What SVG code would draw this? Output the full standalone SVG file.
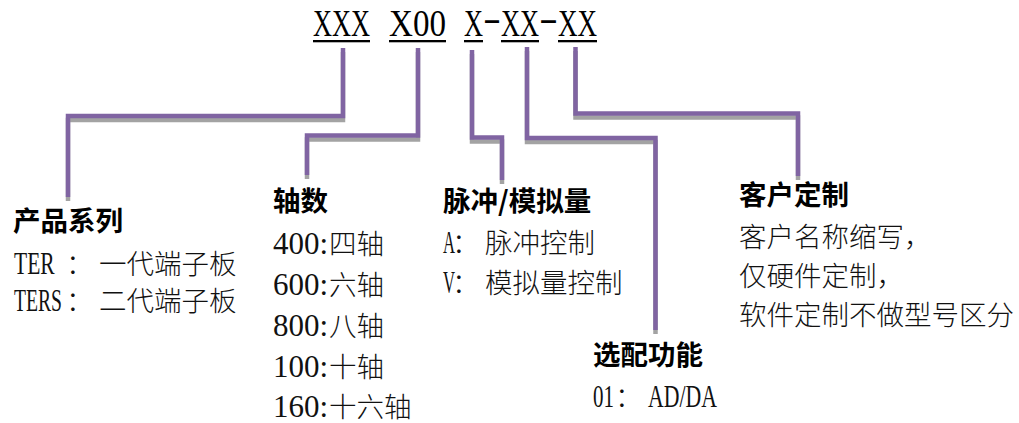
<svg xmlns="http://www.w3.org/2000/svg" width="1019" height="423" viewBox="0 0 1019 423">
<style>
.title{font-family:"Liberation Serif",serif;font-size:38px;fill:#000}
.ul{fill:#000}
.head{font-family:"Noto Sans CJK SC",sans-serif;font-size:27.5px;font-weight:bold;fill:#000}
.cjk{font-family:"Noto Sans CJK SC",sans-serif;font-size:27.5px;font-weight:300;fill:#111}
.lat{font-family:"Liberation Serif","Noto Sans CJK SC",serif;font-size:32px;fill:#111}
.dig{font-family:"Liberation Serif","Noto Sans CJK SC",serif;font-size:31px;fill:#111}
.conn{fill:none;stroke:#8064A2;stroke-width:4.5;stroke-linejoin:miter;stroke-linecap:butt}
.shadow{fill:none;stroke:#a3a3a3;stroke-width:4.5;stroke-linejoin:miter;stroke-linecap:butt}
</style>
<rect width="1019" height="423" fill="#fff"/>
<g id="code">
  <text class="title" x="313" y="36" textLength="57" lengthAdjust="spacingAndGlyphs">XXX</text>
  <text class="title" x="389" y="36" textLength="57" lengthAdjust="spacingAndGlyphs">X00</text>
  <text class="title" x="464" y="36" textLength="19" lengthAdjust="spacingAndGlyphs">X</text>
  <text class="title" x="483" y="31" textLength="18" lengthAdjust="spacingAndGlyphs">-</text>
  <text class="title" x="501" y="36" textLength="38" lengthAdjust="spacingAndGlyphs">XX</text>
  <text class="title" x="539" y="31" textLength="19" lengthAdjust="spacingAndGlyphs">-</text>
  <text class="title" x="558" y="36" textLength="39" lengthAdjust="spacingAndGlyphs">XX</text>
  <rect class="ul" x="313" y="40" width="57" height="2.3"/>
  <rect class="ul" x="389" y="40" width="57" height="2.3"/>
  <rect class="ul" x="464" y="40" width="19" height="2.3"/>
  <rect class="ul" x="501" y="40" width="38" height="2.3"/>
  <rect class="ul" x="558" y="40" width="39" height="2.3"/>
</g>
<g id="connectors">
  <g transform="translate(0,4)">
    <path class="shadow" d="M343,48 V116 H68 V197"/>
    <path class="shadow" d="M418,48 V135.5 H307 V175"/>
    <path class="shadow" d="M472,50 V137.5 H502 V180"/>
    <path class="shadow" d="M527,47 V138 H655.5 V330"/>
    <path class="shadow" d="M575.5,47 V113.5 H798 V176"/>
  </g>
  <path class="conn" d="M343,48 V116 H68 V197"/>
  <path class="conn" d="M418,48 V135.5 H307 V175"/>
  <path class="conn" d="M472,50 V137.5 H502 V180"/>
  <path class="conn" d="M527,47 V138 H655.5 V330"/>
  <path class="conn" d="M575.5,47 V113.5 H798 V176"/>
</g>
<g id="product-series">
  <text class="head" x="13" y="231">产品系列</text>
  <text y="274"><tspan class="lat" x="14" textLength="46" lengthAdjust="spacingAndGlyphs">TER </tspan><tspan class="cjk" x="66">：</tspan><tspan class="cjk" x="99">一代端子板</tspan></text>
  <text y="311"><tspan class="lat" x="14" textLength="48" lengthAdjust="spacingAndGlyphs">TERS</tspan><tspan class="cjk" x="66">：</tspan><tspan class="cjk" x="99">二代端子板</tspan></text>
</g>
<g id="axis-count">
  <text class="head" x="273" y="211">轴数</text>
  <text y="254"><tspan class="dig" x="273">400:</tspan><tspan class="cjk" x="329">四轴</tspan></text>
  <text y="295"><tspan class="dig" x="273">600:</tspan><tspan class="cjk" x="329">六轴</tspan></text>
  <text y="336"><tspan class="dig" x="273">800:</tspan><tspan class="cjk" x="329">八轴</tspan></text>
  <text y="377"><tspan class="dig" x="273">100:</tspan><tspan class="cjk" x="329">十轴</tspan></text>
  <text y="417"><tspan class="dig" x="273">160:</tspan><tspan class="cjk" x="329">十六轴</tspan></text>
</g>
<g id="pulse-analog">
  <text class="head" x="443" y="211">脉冲/模拟量</text>
  <text y="253"><tspan class="lat" x="443" textLength="12" lengthAdjust="spacingAndGlyphs">A</tspan><tspan class="cjk" x="452">：</tspan><tspan class="cjk" x="485">脉冲控制</tspan></text>
  <text y="293"><tspan class="lat" x="443" textLength="12" lengthAdjust="spacingAndGlyphs">V</tspan><tspan class="cjk" x="452">：</tspan><tspan class="cjk" x="485">模拟量控制</tspan></text>
</g>
<g id="options">
  <text class="head" x="593" y="365">选配功能</text>
  <text y="407"><tspan class="lat" x="593" textLength="21" lengthAdjust="spacingAndGlyphs">01</tspan><tspan class="cjk" x="615">：</tspan><tspan class="lat" x="648" textLength="69" lengthAdjust="spacingAndGlyphs">AD/DA</tspan></text>
</g>
<g id="custom">
  <text class="head" x="739" y="205">客户定制</text>
  <text class="cjk" x="739" y="247">客户名称缩写，</text>
  <text class="cjk" x="739" y="286">仅硬件定制，</text>
  <text class="cjk" x="739" y="325">软件定制不做型号区分</text>
</g>
</svg>
